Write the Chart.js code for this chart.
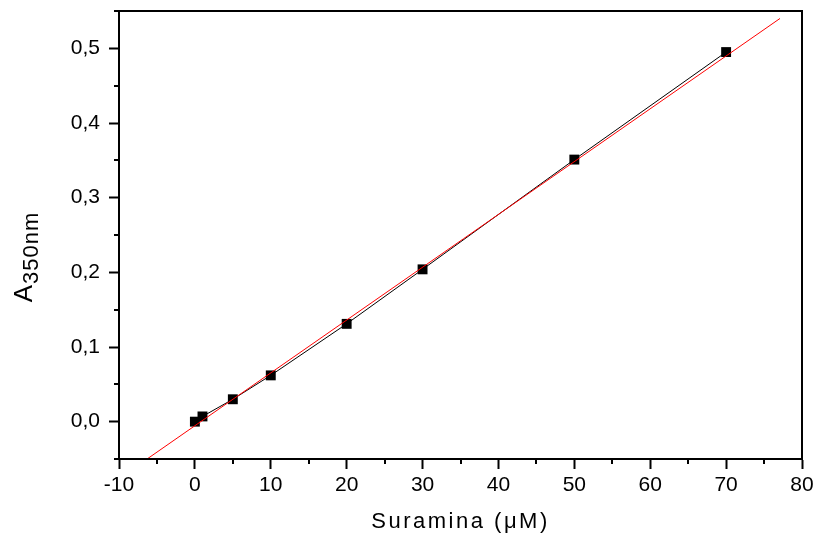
<!DOCTYPE html>
<html>
<head>
<meta charset="utf-8">
<script src="https://cdn.jsdelivr.net/npm/chart.js@4"></script>
<style>
  html, body { margin: 0; padding: 0; background: #fff; }
  #wrap { width: 817px; height: 535px; }
</style>
</head>
<body>
<div id="wrap"><canvas id="chart"></canvas></div>
<script>
// suramina concentration (uM) vs absorbance at 350 nm
const concentrations = [0, 1, 5, 10, 20, 30, 50, 70]
const absorbance = [0, 0.007, 0.030, 0.062, 0.131, 0.204, 0.351, 0.495]

// linear fit line, endpoints
const fitX = [-6.3, 77.1]
const fitY = [-0.05, 0.54]

const xTicks = [-10, 0, 10, 20, 30, 40, 50, 60, 70, 80]
const xMinorTicks = [-5, 5, 15, 25, 35, 45, 55, 65, 75]
const yTicks = [0, 0.1, 0.2, 0.3, 0.4, 0.5]
const yMinorTicks = [-0.05, 0.05, 0.15, 0.25, 0.35, 0.45, 0.55]

const FONT = "'Liberation Sans', Arial, sans-serif"

const frame = {
  id: "frame",
  afterDraw(chart) {
    const { ctx, chartArea: a, scales: { x, y } } = chart
    ctx.save()
    ctx.strokeStyle = "#000"
    ctx.lineWidth = 2
    ctx.strokeRect(a.left, a.top, a.right - a.left, a.bottom - a.top)

    // minor ticks
    ctx.beginPath()
    xMinorTicks.forEach(v => {
      const px = Math.round(x.getPixelForValue(v))
      ctx.moveTo(px, a.bottom)
      ctx.lineTo(px, a.bottom + 5)
    })
    yMinorTicks.forEach(v => {
      const py = Math.round(y.getPixelForValue(v))
      ctx.moveTo(a.left, py)
      ctx.lineTo(a.left - 5, py)
    })
    ctx.stroke()

    // x title
    ctx.fillStyle = "#000"
    ctx.font = "22px " + FONT
    ctx.letterSpacing = "2.5px"
    ctx.textAlign = "center"
    ctx.textBaseline = "alphabetic"
    ctx.fillText("Suramina (\u03bcM)", (a.left + a.right) / 2, 528)

    // y title with subscript
    ctx.translate(32, 257)
    ctx.rotate(-Math.PI / 2)
    ctx.letterSpacing = "1px"
    ctx.textAlign = "left"
    ctx.font = "26px " + FONT
    const wA = ctx.measureText("A").width
    ctx.font = "22px " + FONT
    const wSub = ctx.measureText("350nm").width
    const start = -(wA + wSub) / 2
    ctx.font = "26px " + FONT
    ctx.fillText("A", start, 0)
    ctx.font = "22px " + FONT
    ctx.fillText("350nm", start + wA, 6)
    ctx.restore()
  }
}

new Chart(document.getElementById("chart"), {
  type: "scatter",
  data: {
    datasets: [
      {
        data: concentrations.map((c, i) => ({ x: c, y: absorbance[i] })),
        showLine: true,
        borderColor: "#000",
        borderWidth: 1,
        pointStyle: "rect",
        pointRadius: 7,
        pointBackgroundColor: "#000",
        pointBorderWidth: 0,
        order: 1
      },
      {
        data: fitX.map((v, i) => ({ x: v, y: fitY[i] })),
        showLine: true,
        borderColor: "#ff0000",
        borderWidth: 1,
        pointRadius: 0,
        order: 0
      }
    ]
  },
  options: {
    responsive: true,
    maintainAspectRatio: false,
    animation: false,
    layout: { padding: { top: 11, right: 15, left: 0, bottom: 0 } },
    plugins: {
      legend: { display: false },
      tooltip: { enabled: false }
    },
    scales: {
      x: {
        type: "linear",
        min: -10,
        max: 80,
        afterBuildTicks: s => { s.ticks = xTicks.map(v => ({ value: v })) },
        afterFit: s => { s.height = 76; s.paddingLeft = 0; s.paddingRight = 0 },
        grid: { drawOnChartArea: false, color: "#000", tickLength: 10, tickWidth: 2 },
        border: { color: "#000", width: 2 },
        ticks: { color: "#000", font: { family: FONT, size: 21 }, padding: 4, maxRotation: 0 }
      },
      y: {
        min: -0.05,
        max: 0.55,
        afterBuildTicks: s => { s.ticks = yTicks.map(v => ({ value: v })) },
        afterFit: s => { s.width = 119; s.paddingTop = 0; s.paddingBottom = 0 },
        grid: { drawOnChartArea: false, color: "#000", tickLength: 10, tickWidth: 2 },
        border: { color: "#000", width: 2 },
        ticks: {
          color: "#000",
          font: { family: FONT, size: 21 },
          padding: 9,
          callback: v => v.toFixed(1).replace(".", ",")
        }
      }
    }
  },
  plugins: [frame]
})
</script>
</body>
</html>
